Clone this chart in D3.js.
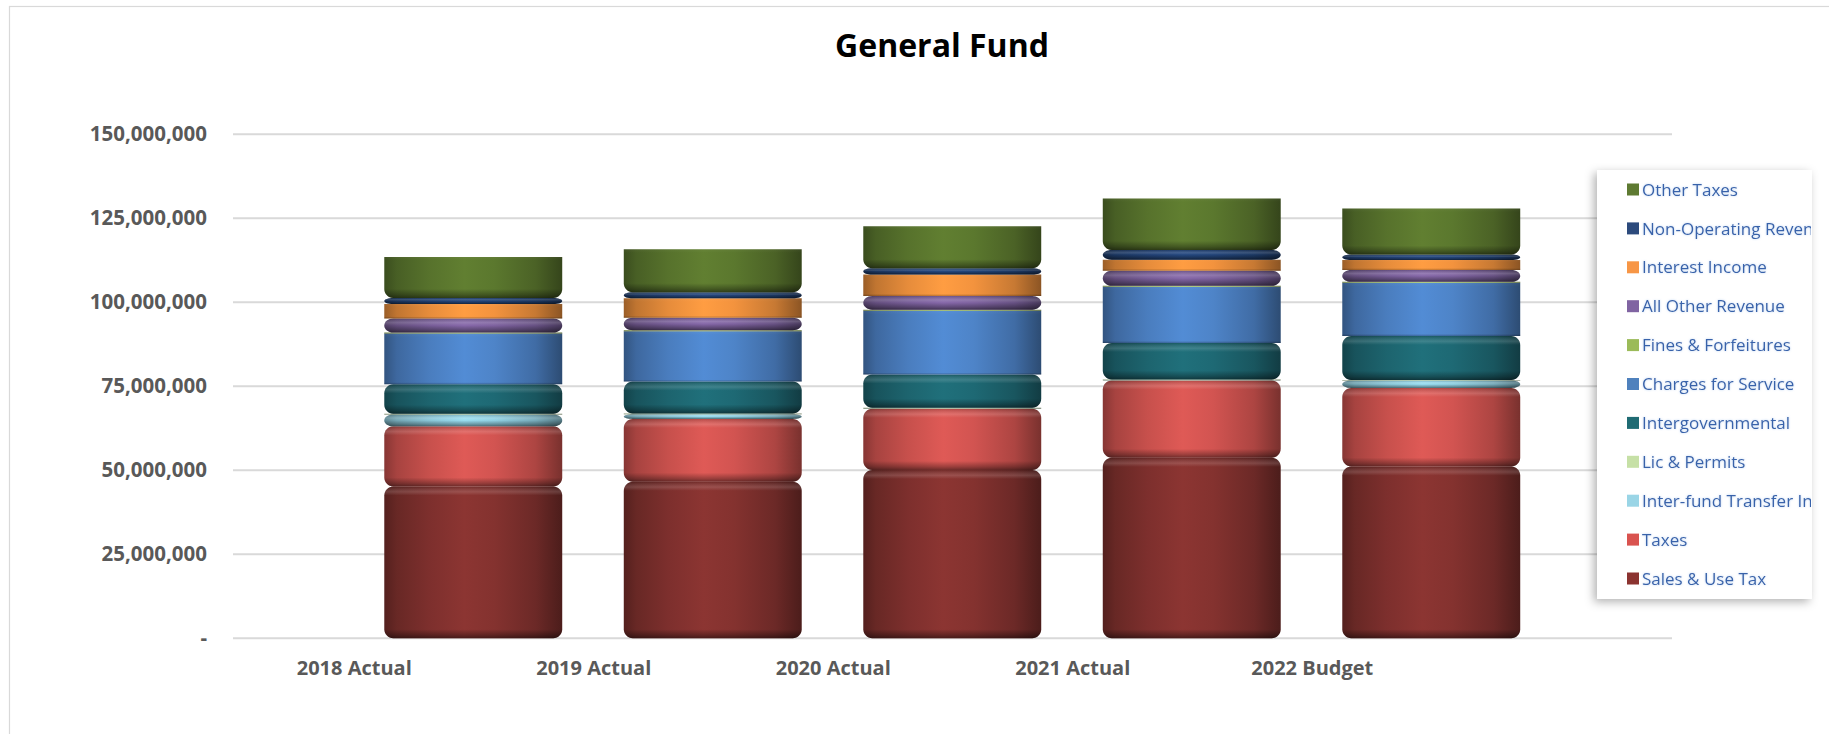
<!DOCTYPE html>
<html>
<head>
<meta charset="utf-8">
<script src="https://cdn.jsdelivr.net/npm/d3@7"></script>
<style>
  html, body { margin: 0; padding: 0; background: #fff; }
  svg { display: block; font-family: "Open Sans", "Noto Sans", sans-serif; }
</style>
</head>
<body>
<svg id="chart" width="1829" height="734"></svg>
<script>
// ---- data (USD) ----
const categories = ["2018 Actual", "2019 Actual", "2020 Actual", "2021 Actual", "2022 Budget"];

const salesUseTax       = [45200000, 46600000, 50100000, 53700000, 51100000];
const taxes             = [17900000, 18700000, 18200000, 23000000, 23400000];
const interfundTransfer = [ 3500000,  1400000,   100000,   100000,  2200000];
const licPermits        = [  200000,   200000,   200000,   200000,   200000];
const intergovernmental = [ 8800000,  9500000,  9900000, 10900000, 13100000];
const chargesForService = [15100000, 15000000, 19000000, 16700000, 15800000];
const finesForfeitures  = [  300000,   300000,   300000,   300000,   300000];
const allOtherRevenue   = [ 4200000,  3700000,  4100000,  4500000,  3500000];
const interestIncome    = [ 4300000,  5800000,  6400000,  3300000,  3000000];
const nonOperatingRev   = [ 1800000,  1800000,  1800000,  2900000,  1600000];
const otherTaxes        = [12200000, 12800000, 12500000, 15300000, 13700000];

// stacking order, bottom to top
const seriesNames = [
  "Sales & Use Tax", "Taxes", "Inter-fund Transfer In", "Lic & Permits",
  "Intergovernmental", "Charges for Service", "Fines & Forfeitures",
  "All Other Revenue", "Interest Income", "Non-Operating Revenue", "Other Taxes"
];
const seriesValues = [
  salesUseTax, taxes, interfundTransfer, licPermits, intergovernmental,
  chargesForService, finesForfeitures, allOtherRevenue, interestIncome,
  nonOperatingRev, otherTaxes
];

const yTickValues = [0, 25000000, 50000000, 75000000, 100000000, 125000000, 150000000];

// ---- styles ----
const seriesColors = [
  "#863330", "#d65652", "#93d4e6", "#c6e0a6", "#1f6b76",
  "#4f86cc", "#9bbb59", "#8064a2", "#f7963f", "#23457a", "#5d7a2f"
];
// swatch colours shown in the legend
const legendColors = [
  "#8b3330", "#d9534f", "#9ad5e6", "#c6e0a6", "#1f6b73",
  "#4f81bd", "#9bbb59", "#8064a2", "#f79646", "#2c4a7c", "#5e7a32"
];
// bevel shape of each series: top / bottom rounded?
const seriesBevel = [
  [1, 1], [1, 1], [1, 1], [0, 0], [1, 1],
  [0, 0], [0, 0], [1, 1], [0, 0], [1, 1], [0, 1]
];

const W = 1829, H = 734;
const svg = d3.select("#chart");
const defs = svg.append("defs");

// table for d3.stack
const table = categories.map((c, i) => {
  const row = { category: c };
  seriesNames.forEach((s, k) => { row[s] = seriesValues[k][i]; });
  return row;
});
const stacked = d3.stack().keys(seriesNames)(table);

// ---- scales ----
const x = d3.scaleBand()
  .domain(categories)
  .range([353.5, 1551])
  .paddingInner(0.257)
  .paddingOuter(0.1285);

const y = d3.scaleLinear()
  .domain([0, 150000000])
  .range([638.3, 134.3]);

const plotLeft = 233, plotRight = 1672;

// chart frame
svg.append("rect")
  .attr("x", 9.5).attr("y", 6.5)
  .attr("width", W + 20).attr("height", H + 20)
  .attr("fill", "none").attr("stroke", "#d9d9d9").attr("stroke-width", 1.2);

// title
svg.append("text")
  .attr("x", 942).attr("y", 57)
  .attr("text-anchor", "middle")
  .attr("font-size", 32).attr("font-weight", 700).attr("fill", "#000")
  .text("General Fund");

// gridlines
svg.append("g")
  .selectAll("line")
  .data(yTickValues)
  .join("line")
  .attr("x1", plotLeft).attr("x2", plotRight)
  .attr("y1", d => y(d)).attr("y2", d => y(d))
  .attr("stroke", "#d9d9d9").attr("stroke-width", 2);

// y axis
const yAxis = svg.append("g")
  .attr("transform", `translate(${plotLeft},0)`)
  .call(d3.axisLeft(y)
    .tickValues(yTickValues)
    .tickSize(0)
    .tickPadding(26)
    .tickFormat(d => d === 0 ? "-" : d3.format(",")(d)));
yAxis.select(".domain").remove();
yAxis.selectAll("text")
  .attr("font-family", "'Open Sans', sans-serif")
  .attr("font-size", 20.5).attr("font-weight", 700).attr("fill", "#595959");

// x axis (labels sit left of the columns, as in the 3-D layout)
const xAxis = svg.append("g")
  .attr("transform", "translate(-119,668)")
  .call(d3.axisBottom(x).tickSize(0));
xAxis.select(".domain").remove();
xAxis.selectAll("text")
  .attr("y", 0).attr("dy", "0.35em")
  .attr("font-family", "'Open Sans', sans-serif")
  .attr("font-size", 20).attr("font-weight", 700).attr("fill", "#595959");

// horizontal shading for the cylinders
seriesNames.forEach((s, k) => {
  const c = d3.color(seriesColors[k]);
  const g = defs.append("linearGradient")
    .attr("id", "hg" + k)
    .attr("x1", 0).attr("x2", 1).attr("y1", 0).attr("y2", 0);
  [[0, c.darker(1.3)], [0.07, c.darker(0.7)], [0.25, c.darker(0.2)],
   [0.45, c.brighter(0.12)], [0.62, c.darker(0.05)], [0.85, c.darker(0.6)], [1, c.darker(1.6)]]
    .forEach(([o, col]) => g.append("stop").attr("offset", o).attr("stop-color", col.formatHex()));
});

function segPath(x0, y0, w, h, roundTop, roundBottom) {
  const rx = 9;
  const ryT = roundTop ? Math.min(9, h / 2) : 0;
  const ryB = roundBottom ? Math.min(9, h / 2) : 0;
  const rxT = roundTop ? rx : 0;
  const rxB = roundBottom ? rx : 0;
  const p = d3.path();
  p.moveTo(x0, y0 + ryT);
  if (ryT > 0) p.bezierCurveTo(x0, y0 + ryT * 0.45, x0 + rxT * 0.45, y0, x0 + rxT, y0);
  p.lineTo(x0 + w - rxT, y0);
  if (ryT > 0) p.bezierCurveTo(x0 + w - rxT * 0.45, y0, x0 + w, y0 + ryT * 0.45, x0 + w, y0 + ryT);
  p.lineTo(x0 + w, y0 + h - ryB);
  if (ryB > 0) p.bezierCurveTo(x0 + w, y0 + h - ryB * 0.45, x0 + w - rxB * 0.45, y0 + h, x0 + w - rxB, y0 + h);
  p.lineTo(x0 + rxB, y0 + h);
  if (ryB > 0) p.bezierCurveTo(x0 + rxB * 0.45, y0 + h, x0, y0 + h - ryB * 0.45, x0, y0 + h - ryB);
  p.closePath();
  return p.toString();
}

// segments
const segs = [];
stacked.forEach((layer, k) => {
  layer.forEach((d, i) => {
    const y0 = y(d[1]), y1 = y(d[0]);
    const h = y1 - y0;
    if (h <= 0) return;
    segs.push({ k, i, top: y0, h, cat: categories[i] });
  });
});

const barG = svg.append("g");
segs.forEach((s, n) => {
  const bx = x(s.cat), bw = x.bandwidth();
  const [rt, rb] = seriesBevel[s.k];
  const d = segPath(bx, s.top, bw, s.h, rt, rb);
  barG.append("path").attr("d", d).attr("fill", `url(#hg${s.k})`);

  // bevel light/shade overlay
  const b = Math.min(9, s.h / 2) / s.h;
  const vg = defs.append("linearGradient")
    .attr("id", "vg" + n)
    .attr("x1", 0).attr("x2", 0).attr("y1", 0).attr("y2", 1);
  const stops = [];
  if (rt) {
    stops.push([0, "#000", 0.18], [b * 0.6, "#fff", 0.14], [b, "#fff", 0]);
  } else {
    stops.push([0, "#fff", 0.04], [b * 0.4, "#fff", 0]);
  }
  if (rb) {
    stops.push([1 - b, "#000", 0], [1 - b * 0.35, "#000", 0.3], [1, "#000", 0.5]);
  } else {
    stops.push([1 - Math.min(2 / s.h, 0.3), "#000", 0], [1, "#000", 0.25]);
  }
  stops.forEach(([o, c, a]) => vg.append("stop").attr("offset", o).attr("stop-color", c).attr("stop-opacity", a));
  barG.append("path").attr("d", d).attr("fill", `url(#vg${n})`);
});

// ---- legend ----
const shadow = defs.append("filter").attr("id", "legendShadow")
  .attr("x", "-20%").attr("y", "-10%").attr("width", "140%").attr("height", "125%");
shadow.append("feDropShadow")
  .attr("dx", -3).attr("dy", 3).attr("stdDeviation", 5)
  .attr("flood-color", "#000").attr("flood-opacity", 0.3);

const glow = defs.append("filter").attr("id", "textGlow")
  .attr("x", "-10%").attr("y", "-40%").attr("width", "120%").attr("height", "180%");
glow.append("feGaussianBlur").attr("in", "SourceAlpha").attr("stdDeviation", 1.3).attr("result", "b");
glow.append("feFlood").attr("flood-color", "#a9c8ee").attr("flood-opacity", 0.8);
glow.append("feComposite").attr("in2", "b").attr("operator", "in").attr("result", "g");
const gm = glow.append("feMerge");
gm.append("feMergeNode").attr("in", "g");
gm.append("feMergeNode").attr("in", "SourceGraphic");

defs.append("clipPath").attr("id", "legendClip")
  .append("rect").attr("x", 1597).attr("y", 160).attr("width", 214).attr("height", 450);

const lg = svg.append("g");
lg.append("rect")
  .attr("x", 1597).attr("y", 170).attr("width", 215).attr("height", 429)
  .attr("fill", "#fff").attr("filter", "url(#legendShadow)");

const legendOrder = d3.range(seriesNames.length).reverse();
const legendItems = lg.append("g").attr("clip-path", "url(#legendClip)")
  .selectAll("g")
  .data(legendOrder)
  .join("g")
  .attr("transform", (k, j) => `translate(1627,${189.5 + j * 38.9})`);

legendItems.append("rect")
  .attr("x", 0).attr("y", -6).attr("width", 12).attr("height", 12)
  .attr("fill", k => legendColors[k]);

legendItems.append("text")
  .attr("x", 15).attr("y", 0).attr("dy", "0.36em")
  .attr("font-size", 17).attr("fill", "#3762aa")
  .attr("filter", "url(#textGlow)")
  .text(k => seriesNames[k]);
</script>
</body>
</html>
